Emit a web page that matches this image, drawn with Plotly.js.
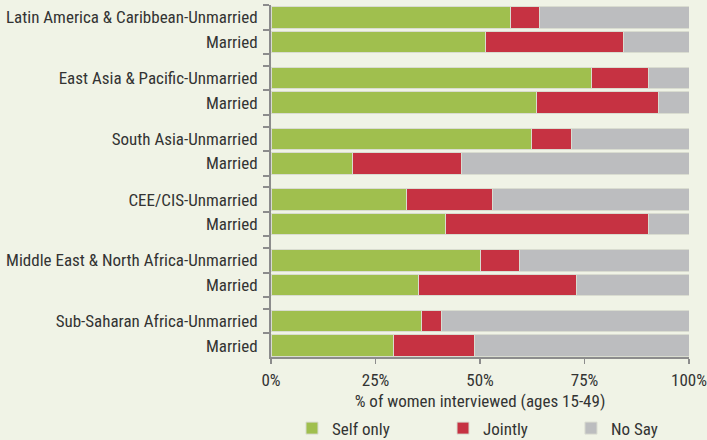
<!DOCTYPE html>
<html>
<head>
<meta charset="utf-8">
<script src="https://cdn.plot.ly/plotly-3.0.1.min.js"></script>
<style>html,body{margin:0;padding:0;background:#f0f3e6;}#chart{width:707px;height:440px;}</style>
</head>
<body>
<div id="chart"></div>
<script>
const categories = ["Latin America & Caribbean-Unmarried","Married","East Asia & Pacific-Unmarried","Married","South Asia-Unmarried","Married","CEE/CIS-Unmarried","Married","Middle East & North Africa-Unmarried","Married","Sub-Saharan Africa-Unmarried","Married"];
const selfOnly = [57.2, 51.4, 76.6, 63.6, 62.4, 19.5, 32.3, 41.8, 50.2, 35.4, 36.0, 29.4];
const jointly  = [7.0, 32.9, 13.8, 29.0, 9.6, 26.0, 20.6, 48.6, 9.3, 37.6, 4.7, 19.3];
const noSay    = [35.8, 15.7, 9.6, 7.4, 28.0, 54.5, 47.1, 9.6, 40.5, 27.0, 59.3, 51.3];
const seriesNames = ["Self only", "Jointly", "No Say"];
const xTicks = [0, 25, 50, 75, 100];
const xTickText = ["0%", "25%", "50%", "75%", "100%"];

const GROUP = 2.47;
const pos = categories.map((c, i) => Math.floor(i / 2) * GROUP + (i % 2));
const bounds = [];
for (let g = 0; g < categories.length / 2; g++) {
  bounds.push(g * GROUP - 0.5, g * GROUP + 0.5, g * GROUP + 1.5);
}
const FONT = "'Roboto Condensed', 'Liberation Sans Narrow', 'DejaVu Sans Condensed', sans-serif";
const colors = ["#a0bf4e", "#c63242", "#bcbdbf"];
const values = [selfOnly, jointly, noSay];
const legendIds = ["legend", "legend2", "legend3"];

const traces = values.map((v, k) => ({
  type: "bar", orientation: "h",
  x: v, y: pos, name: seriesNames[k],
  width: 0.875,
  marker: {color: colors[k], line: {color: "#d9dcd0", width: 1}},
  legend: legendIds[k]
}));

const legStyle = (x) => ({
  x: x, y: 0.026, xref: "container", yref: "container",
  xanchor: "left", yanchor: "middle",
  orientation: "h", bgcolor: "rgba(0,0,0,0)",
  font: {family: FONT, size: 17, color: "#333"}
});

const layout = {
  width: 707, height: 440,
  margin: {l: 271, r: 18, t: 5, b: 83, autoexpand: false},
  paper_bgcolor: "#f0f3e6", plot_bgcolor: "#f0f3e6",
  barmode: "stack", bargap: 0,
  font: {family: FONT, size: 17, color: "#333"},
  showlegend: true,
  legend: legStyle(0.413),
  legend2: legStyle(0.6266),
  legend3: legStyle(0.8076),
  xaxis: {
    range: [0, 100], tickmode: "array", tickvals: xTicks, ticktext: xTickText,
    showgrid: false, zeroline: false, automargin: true,
    showline: true, linecolor: "#8c8c8c", linewidth: 2,
    ticks: "outside", ticklen: 5, tickwidth: 1.5, tickcolor: "#8c8c8c",
    ticklabelstandoff: 2,
    tickfont: {family: FONT, size: 17, color: "#333"},
    title: {text: "% of women interviewed (ages 15-49)", standoff: 8,
            font: {family: FONT, size: 17, color: "#333"}}
  },
  yaxis: {
    range: [13.81, -0.5], tickmode: "array", tickvals: pos, ticktext: categories,
    showgrid: false, zeroline: false, automargin: false,
    showline: true, linecolor: "#8c8c8c", linewidth: 2,
    ticks: "", ticklabelstandoff: 8,
    tickfont: {family: FONT, size: 17, color: "#333"},
    minor: {tickvals: bounds, ticks: "outside", ticklen: 6, tickwidth: 2, tickcolor: "#8c8c8c", showgrid: false}
  }
};

Plotly.newPlot("chart", traces, layout, {staticPlot: true, displayModeBar: false});
</script>
</body>
</html>
